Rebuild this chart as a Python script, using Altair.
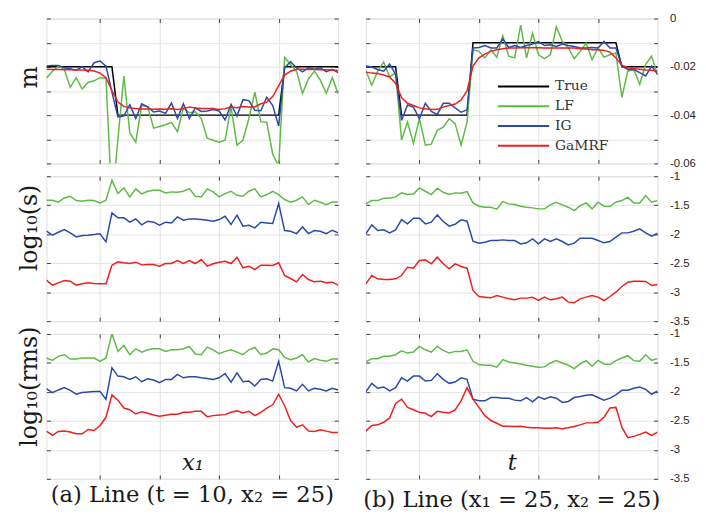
import altair as alt
import pandas as pd

idx = list(range(1, 51))
series_names = ["True", "LF", "IG", "GaMRF"]
series_colors = ["#000000", "#5fba46", "#2a4aa7", "#f21d1d"]

# (a) line through x1 at t = 10, x2 = 25
true_x_a = [1, 12, 13, 40, 41, 50]
true_m_a = [-0.02, -0.02, -0.04, -0.04, -0.02, -0.02]
lf_m_a = [-0.0247, -0.0218, -0.0197, -0.021, -0.0285, -0.0245, -0.0292, -0.0265, -0.0258, -0.0245,
          -0.0247, -0.077, -0.050, -0.0238, -0.0474, -0.0512, -0.036, -0.0365, -0.0454, -0.0447,
          -0.044, -0.043, -0.0468, -0.037, -0.039, -0.0386, -0.0414, -0.0495, -0.0504, -0.0512,
          -0.0504, -0.0366, -0.0524, -0.0504, -0.0414, -0.0305, -0.0427, -0.043, -0.0562, -0.061,
          -0.0161, -0.019, -0.0218, -0.031, -0.025, -0.0218, -0.0255, -0.031, -0.0245, -0.0312]
ig_m_a = [-0.0197, -0.0194, -0.0194, -0.0204, -0.0208, -0.0214, -0.0199, -0.0221, -0.0183, -0.0176,
          -0.0197, -0.0305, -0.0407, -0.0404, -0.0357, -0.0414, -0.0353, -0.0366, -0.0387, -0.0383,
          -0.0393, -0.035, -0.0414, -0.0353, -0.0414, -0.037, -0.0385, -0.0383, -0.0377, -0.0383,
          -0.042, -0.0355, -0.0404, -0.0336, -0.034, -0.038, -0.0382, -0.0326, -0.036, -0.0445,
          -0.0204, -0.0179, -0.0204, -0.0221, -0.0204, -0.021, -0.0204, -0.022, -0.021, -0.0224]
ga_m_a = [-0.021, -0.0211, -0.0211, -0.0212, -0.0212, -0.0213, -0.0213, -0.0214, -0.0217, -0.0226,
          -0.0245, -0.0298, -0.0346, -0.0364, -0.037, -0.0373, -0.0375, -0.0375, -0.0376, -0.0375,
          -0.0376, -0.0374, -0.0377, -0.0374, -0.0366, -0.037, -0.0373, -0.0373, -0.0373, -0.0377,
          -0.0373, -0.0366, -0.0369, -0.0364, -0.0366, -0.0366, -0.0353, -0.0346, -0.0323, -0.0278,
          -0.0234, -0.0218, -0.021, -0.021, -0.0211, -0.0211, -0.0212, -0.0212, -0.0213, -0.0215]
lf_s_a = [-1.414, -1.414, -1.448, -1.374, -1.345, -1.42, -1.431, -1.414, -1.42, -1.46,
          -1.414, -1.069, -1.299, -1.201, -1.356, -1.218, -1.305, -1.259, -1.241, -1.241,
          -1.287, -1.27, -1.276, -1.259, -1.213, -1.345, -1.356, -1.218, -1.27, -1.356,
          -1.299, -1.259, -1.328, -1.345, -1.259, -1.218, -1.356, -1.316, -1.259, -1.316,
          -1.402, -1.448, -1.414, -1.356, -1.489, -1.414, -1.448, -1.489, -1.443, -1.443]
ig_s_a = [-1.948, -2.017, -1.966, -1.92, -1.977, -2.046, -2.023, -2.017, -2.006, -1.994,
          -2.132, -1.632, -1.718, -1.718, -1.793, -1.736, -1.839, -1.776, -1.793, -1.845,
          -1.793, -1.805, -1.701, -1.759, -1.736, -1.736, -1.747, -1.759, -1.776, -1.747,
          -1.69, -1.833, -1.672, -1.862, -1.845, -1.891, -1.793, -1.805, -1.816, -1.471,
          -1.937, -1.948, -1.989, -1.874, -1.989, -1.937, -1.948, -1.989, -1.931, -1.977]
ga_s_a = [-2.793, -2.879, -2.839, -2.799, -2.81, -2.879, -2.856, -2.839, -2.851, -2.856,
          -2.856, -2.534, -2.477, -2.494, -2.506, -2.483, -2.529, -2.523, -2.523, -2.552,
          -2.506, -2.506, -2.454, -2.506, -2.454, -2.506, -2.437, -2.552, -2.511, -2.483,
          -2.466, -2.506, -2.397, -2.58, -2.552, -2.609, -2.534, -2.534, -2.54, -2.494,
          -2.713, -2.764, -2.822, -2.695, -2.782, -2.822, -2.81, -2.839, -2.828, -2.879]
lf_r_a = [-1.415, -1.455, -1.386, -1.358, -1.432, -1.432, -1.415, -1.415, -1.415, -1.472,
          -1.415, -0.989, -1.301, -1.199, -1.358, -1.256, -1.313, -1.273, -1.256, -1.256,
          -1.301, -1.273, -1.273, -1.256, -1.216, -1.347, -1.358, -1.227, -1.273, -1.341,
          -1.301, -1.273, -1.313, -1.358, -1.273, -1.233, -1.358, -1.33, -1.256, -1.273,
          -1.403, -1.443, -1.415, -1.358, -1.483, -1.426, -1.455, -1.472, -1.432, -1.432]
ig_r_a = [-1.943, -2.011, -1.966, -1.926, -1.972, -2.04, -2.011, -2.0, -1.994, -1.994,
          -2.125, -1.585, -1.727, -1.739, -1.784, -1.739, -1.824, -1.773, -1.795, -1.841,
          -1.784, -1.784, -1.699, -1.756, -1.739, -1.739, -1.756, -1.767, -1.784, -1.756,
          -1.682, -1.83, -1.67, -1.824, -1.813, -1.898, -1.784, -1.773, -1.813, -1.472,
          -1.926, -1.938, -1.983, -1.869, -1.983, -1.938, -1.955, -1.983, -1.938, -1.966]
ga_r_a = [-2.676, -2.75, -2.682, -2.676, -2.693, -2.722, -2.722, -2.648, -2.665, -2.58,
          -2.438, -2.051, -2.142, -2.278, -2.307, -2.381, -2.341, -2.369, -2.398, -2.42,
          -2.403, -2.386, -2.386, -2.352, -2.352, -2.335, -2.335, -2.426, -2.409, -2.398,
          -2.392, -2.352, -2.324, -2.364, -2.335, -2.409, -2.352, -2.278, -2.222, -2.04,
          -2.239, -2.494, -2.608, -2.568, -2.676, -2.682, -2.653, -2.676, -2.699, -2.699]

# (b) line through t at x1 = 25, x2 = 25
true_x_b = [1, 6, 7, 18, 19, 43, 44, 50]
true_m_b = [-0.02, -0.02, -0.04, -0.04, -0.01, -0.01, -0.02, -0.02]
lf_m_b = [-0.0215, -0.0276, -0.0218, -0.018, -0.0242, -0.0224, -0.0503, -0.0429, -0.0517, -0.0415,
          -0.0524, -0.052, -0.0463, -0.045, -0.0415, -0.0435, -0.0524, -0.0429, -0.013, -0.0136,
          -0.0163, -0.013, -0.016, -0.0071, -0.0156, -0.0163, -0.0027, -0.0163, -0.0061, -0.015,
          -0.0166, -0.015, -0.0034, -0.0095, -0.0122, -0.0166, -0.0136, -0.0102, -0.017, -0.0122,
          -0.016, -0.015, -0.0143, -0.0327, -0.0218, -0.0211, -0.0272, -0.019, -0.0156, -0.0234]
ig_m_b = [-0.0197, -0.0201, -0.0211, -0.0218, -0.0188, -0.0231, -0.0422, -0.0358, -0.0367, -0.0415,
          -0.0351, -0.0385, -0.0397, -0.0351, -0.0351, -0.037, -0.0388, -0.0378, -0.0122, -0.012,
          -0.0112, -0.0122, -0.0122, -0.0084, -0.012, -0.0112, -0.012, -0.0112, -0.0106, -0.0095,
          -0.0112, -0.0109, -0.0116, -0.0106, -0.0112, -0.0116, -0.0122, -0.0122, -0.012, -0.0122,
          -0.0095, -0.0122, -0.0122, -0.0197, -0.0211, -0.0211, -0.0224, -0.0238, -0.0197, -0.0231]
ga_m_b = [-0.0222, -0.0226, -0.0228, -0.0234, -0.0242, -0.0269, -0.0327, -0.0351, -0.036, -0.037,
          -0.0374, -0.0377, -0.0376, -0.0367, -0.036, -0.0354, -0.0337, -0.030, -0.0197, -0.0163,
          -0.0147, -0.0136, -0.0129, -0.0125, -0.0122, -0.0122, -0.0121, -0.0121, -0.0121, -0.0121,
          -0.0122, -0.0122, -0.0122, -0.0122, -0.0122, -0.0122, -0.0125, -0.0126, -0.0129, -0.0129,
          -0.0132, -0.0139, -0.0163, -0.0193, -0.0204, -0.0207, -0.021, -0.0213, -0.0214, -0.0218]
lf_s_b = [-1.477, -1.42, -1.42, -1.379, -1.379, -1.356, -1.287, -1.316, -1.305, -1.201,
          -1.259, -1.316, -1.207, -1.276, -1.316, -1.287, -1.293, -1.264, -1.46, -1.517,
          -1.534, -1.534, -1.569, -1.437, -1.477, -1.489, -1.517, -1.534, -1.546, -1.563,
          -1.563, -1.494, -1.448, -1.494, -1.534, -1.592, -1.506, -1.46, -1.563, -1.448,
          -1.517, -1.523, -1.448, -1.42, -1.362, -1.46, -1.46, -1.333, -1.448, -1.42]
ig_s_b = [-1.994, -1.839, -1.937, -1.925, -1.977, -1.925, -1.747, -1.822, -1.724, -1.724,
          -1.822, -1.793, -1.667, -1.782, -1.862, -1.828, -1.753, -1.776, -2.121, -2.155,
          -2.138, -2.109, -2.109, -2.098, -2.109, -2.109, -2.167, -2.149, -2.08, -2.167,
          -2.08, -2.126, -2.08, -2.126, -2.184, -2.155, -2.069, -2.069, -2.069, -2.109,
          -2.149, -2.126, -2.052, -1.977, -1.977, -1.948, -1.908, -1.977, -2.034, -1.983]
ga_s_b = [-2.856, -2.713, -2.77, -2.782, -2.782, -2.77, -2.713, -2.569, -2.586, -2.454,
          -2.443, -2.511, -2.397, -2.511, -2.598, -2.511, -2.557, -2.586, -2.971, -3.075,
          -3.086, -3.098, -3.057, -3.086, -3.115, -3.132, -3.103, -3.103, -3.086, -3.144,
          -3.086, -3.132, -3.115, -3.086, -3.172, -3.184, -3.115, -3.086, -3.057, -3.086,
          -3.144, -3.075, -3.0, -2.902, -2.828, -2.81, -2.81, -2.816, -2.885, -2.868]
lf_r_b = [-1.483, -1.426, -1.426, -1.386, -1.386, -1.358, -1.29, -1.33, -1.313, -1.216,
          -1.273, -1.313, -1.216, -1.284, -1.33, -1.301, -1.301, -1.273, -1.472, -1.528,
          -1.54, -1.54, -1.574, -1.443, -1.483, -1.5, -1.517, -1.54, -1.557, -1.574,
          -1.568, -1.5, -1.46, -1.5, -1.54, -1.597, -1.517, -1.46, -1.557, -1.455,
          -1.517, -1.528, -1.46, -1.415, -1.375, -1.46, -1.472, -1.358, -1.455, -1.426]
ig_r_b = [-2.0, -1.852, -1.938, -1.915, -1.983, -1.926, -1.756, -1.813, -1.727, -1.727,
          -1.813, -1.801, -1.688, -1.784, -1.852, -1.83, -1.756, -1.784, -2.125, -2.153,
          -2.153, -2.097, -2.097, -2.108, -2.108, -2.142, -2.153, -2.097, -2.17, -2.085,
          -2.125, -2.085, -2.108, -2.182, -2.165, -2.097, -2.08, -2.057, -2.051, -2.097,
          -2.142, -2.108, -2.051, -1.972, -1.972, -1.938, -1.915, -1.955, -2.04, -1.983]
ga_r_b = [-2.676, -2.58, -2.568, -2.523, -2.449, -2.199, -2.125, -2.267, -2.307, -2.352,
          -2.369, -2.426, -2.335, -2.352, -2.364, -2.312, -2.153, -1.926, -2.125, -2.267,
          -2.409, -2.494, -2.54, -2.591, -2.591, -2.597, -2.591, -2.608, -2.619, -2.619,
          -2.625, -2.625, -2.619, -2.636, -2.619, -2.597, -2.568, -2.534, -2.534, -2.523,
          -2.438, -2.278, -2.267, -2.608, -2.79, -2.767, -2.733, -2.693, -2.75, -2.693]

x_grid = [10, 20, 30, 40]
m_grid = [0, -0.01, -0.02, -0.03, -0.04, -0.05, -0.06]
log_grid = [-1, -1.5, -2, -2.5, -3, -3.5]

SERIF = "DejaVu Serif"
W, H = 296, 147
GRID = "#e3e3e3"
FRAME = "#404040"
TICK = dict(ticks=True, tickSize=4, tickColor=FRAME, tickWidth=1, offset=-4, domain=False)


def long_frame(true_x=None, true_y=None, **curves):
    parts = []
    if true_x is not None:
        parts.append(pd.DataFrame({"i": true_x, "v": true_y, "series": "True"}))
    for name, vals in curves.items():
        parts.append(pd.DataFrame({"i": idx, "v": vals, "series": name}))
    return pd.concat(parts, ignore_index=True)


def panel(df, ydom, yvals, ytitle=None, title_y=None, right=False, xtitle=None,
          legend=None, caption=None):
    xscale = alt.Scale(domain=[1, 50], nice=False, zero=False)
    yscale = alt.Scale(domain=ydom, nice=False, zero=False)

    # main axes: bottom x, y on the labelled side, both with grid
    xmain = dict(values=x_grid, labels=False, grid=True, gridColor=GRID, **TICK)
    if xtitle:
        xmain.update(title=xtitle, titleFont=SERIF, titleFontSize=23,
                     titleFontStyle="italic", titleFontWeight="normal", titleY=-5,
                     titleBaseline="alphabetic", titleColor="#1a1a1a")
    else:
        xmain.update(title=None)
    if right:
        if ydom[0] == -0.06:
            lab = ("datum.value == 0 ? '0' : (abs(round(datum.value * 100)) % 2 == 0 ? "
                   "'-0.0' + abs(round(datum.value * 100)) : '')")
        else:
            lab = "'-' + abs(datum.value)"
        ymain = alt.Axis(orient="right", values=yvals, labelExpr=lab, grid=True,
                         gridColor=GRID, title=None, labelFont="Liberation Sans",
                         labelFontSize=11.5, labelColor="#262626", labelPadding=12, **TICK)
    else:
        ymain = alt.Axis(orient="left", values=yvals, labels=False, grid=True,
                         gridColor=GRID, title=ytitle, titleFont=SERIF, titleFontSize=24,
                         titleFontWeight="normal", titleColor="#1a1a1a", titlePadding=5,
                         titleY=title_y, **TICK)
    # opposite-side axes: inward tick marks only
    xopp = alt.Axis(orient="top", values=x_grid, labels=False, grid=False, title=None, **TICK)
    yopp = alt.Axis(orient="left" if right else "right", values=yvals, labels=False,
                    grid=False, title=None, **TICK)

    color = alt.Color("series:N",
                      scale=alt.Scale(domain=series_names, range=series_colors),
                      legend=legend)
    names = [n for n in series_names if n in set(df["series"])]
    layers = []
    for k, name in enumerate(names):
        if k == 0:
            xa, ya = alt.Axis(**xmain), ymain
        elif k == len(names) - 1:
            xa, ya = xopp, yopp
        else:
            xa, ya = None, None
        layers.append(
            alt.Chart(df).transform_filter(alt.datum.series == name)
            .mark_line(strokeWidth=1.5, clip=True)
            .encode(x=alt.X("i:Q", scale=xscale, axis=xa),
                    y=alt.Y("v:Q", scale=yscale, axis=ya),
                    color=color, order="i:Q")
        )
    props = dict(width=W, height=H)
    if caption:
        props["title"] = alt.TitleParams(caption, orient="bottom", anchor="middle",
                                         frame="group", font=SERIF, fontSize=23,
                                         fontWeight="normal", color="#1a1a1a", offset=5)
    return alt.layer(*layers).resolve_axis(x="independent", y="independent").properties(**props)


legend_b = alt.Legend(orient="none", legendX=133, legendY=61, title=None,
                      symbolType="M-1,0L1,0", symbolSize=2704, symbolStrokeWidth=2,
                      clipHeight=16, labelFont=SERIF, labelFontSize=14,
                      labelColor="#333333", labelOffset=5, rowPadding=4)

top_a = panel(long_frame(true_x_a, true_m_a, LF=lf_m_a, IG=ig_m_a, GaMRF=ga_m_a),
              [-0.06, 0], m_grid, ytitle="m", title_y=59)
top_b = panel(long_frame(true_x_b, true_m_b, LF=lf_m_b, IG=ig_m_b, GaMRF=ga_m_b),
              [-0.06, 0], m_grid, right=True, legend=legend_b)
mid_a = panel(long_frame(LF=lf_s_a, IG=ig_s_a, GaMRF=ga_s_a),
              [-3.5, -1], log_grid, ytitle="log₁₀(s)", title_y=52)
mid_b = panel(long_frame(LF=lf_s_b, IG=ig_s_b, GaMRF=ga_s_b),
              [-3.5, -1], log_grid, right=True)
bot_a = panel(long_frame(LF=lf_r_a, IG=ig_r_a, GaMRF=ga_r_a),
              [-3.5, -1], log_grid, ytitle="log₁₀(rms)", title_y=53, xtitle="x₁",
              caption="(a) Line (t = 10, x₂ = 25)")
bot_b = panel(long_frame(LF=lf_r_b, IG=ig_r_b, GaMRF=ga_r_b),
              [-3.5, -1], log_grid, right=True, xtitle="t",
              caption="(b) Line (x₁ = 25, x₂ = 25)")

chart = alt.concat(
    top_a, top_b, mid_a, mid_b, bot_a, bot_b,
    columns=2, bounds="flush", spacing={"row": 13, "column": 28},
).resolve_legend(color="independent").properties(
    padding={"left": 9, "top": 0, "right": 2, "bottom": 0}
).configure_view(
    stroke=FRAME, strokeWidth=1.6
).configure(background="white")

chart.save("out.html", embed_options={"renderer": "svg", "actions": False})
